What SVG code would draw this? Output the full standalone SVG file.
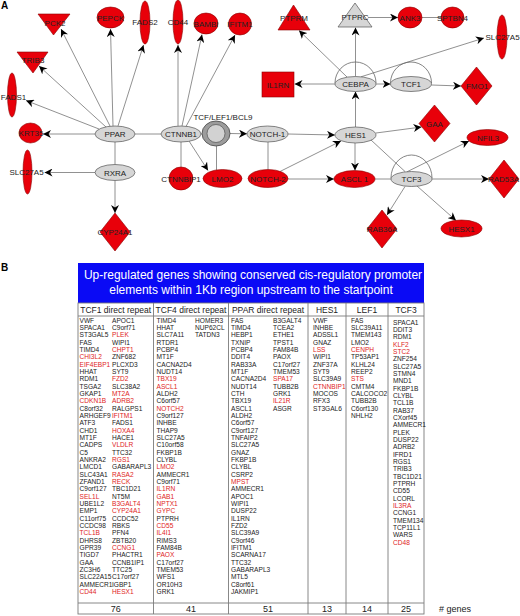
<svg xmlns="http://www.w3.org/2000/svg" width="520" height="616" viewBox="0 0 520 616">
<defs>
<marker id="ah" viewBox="0 0 10 10" refX="10" refY="5" markerWidth="8" markerHeight="8" markerUnits="userSpaceOnUse" orient="auto"><path d="M0,0 L10,5 L0,10 L3,5 z" fill="#000"/></marker>
<style>
.e{stroke:#858585;stroke-width:0.9;fill:none}
.a{marker-end:url(#ah)}
.lp{stroke:#666;stroke-width:0.8;fill:none}
.r{fill:#e8000a;stroke:#8a0000;stroke-width:0.6}
.g{fill:#d6d6d6;stroke:#555;stroke-width:0.7}
.lb{font-family:"Liberation Sans",Arial,sans-serif;font-size:8px;fill:#222;text-anchor:middle}
.pl{font-family:"Liberation Sans",Arial,sans-serif;font-size:10px;font-weight:bold;fill:#000}
.it{font-family:"Liberation Sans",Arial,sans-serif;font-size:6.6px;fill:#222}
.rd{fill:#e02424}
.hd{font-family:"Liberation Sans",Arial,sans-serif;font-size:8.5px;fill:#222;text-anchor:middle}
.ct{font-family:"Liberation Sans",Arial,sans-serif;font-size:9px;fill:#222;text-anchor:middle}
.tl{stroke:#7a7a7a;stroke-width:0.9;fill:none}
.ti{font-family:"Liberation Sans",Arial,sans-serif;font-size:12px;fill:#fff;text-anchor:middle}
</style>
</defs>
<rect width="520" height="616" fill="#fff"/>
<text class="pl" x="1" y="9">A</text>
<text class="pl" x="1" y="271">B</text>

<g id="connectors">
<path class="e a" d="M110,126 L61,29"/>
<path class="e a" d="M106,127 L39,66"/>
<path class="e a" d="M99,129 L26,100.5"/>
<path class="e a" d="M95,134 L43,134"/>
<path class="e a" d="M113,126 L110.5,29"/>
<path class="e a" d="M118,126 L143.5,45"/>
<path class="e" d="M135,134 L161,134"/>
<path class="e" d="M115,142 L115,164.5"/>
<path class="e a" d="M178,126 L178,45"/>
<path class="e a" d="M182,126 L202,34.5"/>
<path class="e a" d="M186,126.5 L235,35"/>
<path class="e" d="M201,134 L202,134"/>
<path class="e" d="M181,142 L181,167"/>
<path class="e a" d="M189,141 L208,170.5"/>
<path class="e" d="M216.5,146 L216.5,170"/>
<path class="e a" d="M230,133.5 L247,133.8"/>
<path class="e a" d="M288,134 L335,135"/>
<path class="e" d="M268,142 L268,169.5"/>
<path class="e a" d="M280,171.5 L341,141"/>
<path class="e a" d="M288,179 L334,179"/>
<path class="e a" d="M355.5,127 L355.5,91.5"/>
<path class="e a" d="M376,133 L421.5,127"/>
<path class="e a" d="M355,143 L355,170.5"/>
<path class="e" d="M371,140 L405,171.5"/>
<path class="e a" d="M407,171.8 L469,141"/>
<path class="e" d="M375,179 L391,179"/>
<path class="e a" d="M432,179 L489,179"/>
<path class="e a" d="M405,186.5 L387,215"/>
<path class="e a" d="M417,186 L456,220.5"/>
<path class="e a" d="M335,84 L294.5,84"/>
<path class="e a" d="M347,77 L299,30.5"/>
<path class="e a" d="M355.5,76.5 L355.5,27.5"/>
<path class="e a" d="M361,76.8 L484,38"/>
<path class="e a" d="M376,84 L390.5,84"/>
<path class="e a" d="M431.5,85 L461,86"/>
<path class="e a" d="M368,17.5 L398,17.5"/>
<path class="e" d="M422,17.5 L441,17.5"/>
<path class="e a" d="M95,172.5 L44.5,172.5"/>
<path class="e a" d="M115,180.5 L115,213"/>
<path class="lp" d="M335,83 A20.5,21 0 0 1 376,83"/>
<path class="lp" d="M390.5,83 A20.5,21 0 0 1 431.5,83"/>
<path class="lp" d="M391,178 A20.5,23 0 0 1 432,178"/>
</g>

<g id="n-PCK2"><polygon class="r" points="38,14 70,14 53.5,35"/><text class="lb" x="55" y="25.5">PCK2</text></g>
<g id="n-TRIB3"><polygon class="r" points="17,52 48,52 33,73"/><text class="lb" x="33" y="63">TRIB3</text></g>
<g id="n-PEPCK"><ellipse class="r" cx="110.5" cy="17.5" rx="13.5" ry="10.5"/><text class="lb" x="110.5" y="20.5">PEPCK</text></g>
<g id="n-FADS2"><ellipse class="r" cx="145" cy="22.5" rx="5" ry="21.5"/><text class="lb" x="145" y="25">FADS2</text></g>
<g id="n-CD44"><ellipse class="r" cx="178" cy="22" rx="5" ry="22"/><text class="lb" x="178" y="25">CD44</text></g>
<g id="n-BAMBI"><ellipse class="r" cx="206" cy="23.5" rx="12" ry="10.5"/><text class="lb" x="206" y="26.5">BAMBI</text></g>
<g id="n-IFITM1"><ellipse class="r" cx="240" cy="24" rx="11.5" ry="11"/><text class="lb" x="240" y="27">IFITM1</text></g>
<g id="n-FADS1"><ellipse class="r" cx="12" cy="95" rx="4.5" ry="22"/><text class="lb" x="13.5" y="100">FADS1</text></g>
<g id="n-KRT35"><ellipse class="r" cx="30.5" cy="133" rx="11.5" ry="10"/><text class="lb" x="31" y="136">KRT35</text></g>
<g id="n-PPAR"><ellipse class="g" cx="115" cy="134" rx="20" ry="8"/><text class="lb" x="115" y="137">PPAR</text></g>
<g id="n-CTNNB1"><ellipse class="g" cx="181" cy="134" rx="20" ry="8"/><text class="lb" x="181" y="137">CTNNB1</text></g>
<g id="n-TCFLEF1BCL9"><ellipse cx="216" cy="133.5" rx="14" ry="12.5" fill="#9c9c9c" stroke="#444" stroke-width="0.8"/><ellipse cx="216" cy="133.5" rx="9" ry="9" fill="#d2d2d2" stroke="#555" stroke-width="0.7"/><text class="lb" x="223" y="120">TCF/LEF1/BCL9</text></g>
<g id="n-NOTCH1"><ellipse class="g" cx="267.5" cy="134" rx="20.5" ry="8"/><text class="lb" x="267.5" y="137">NOTCH-1</text></g>
<g id="n-HES1"><ellipse class="g" cx="355.5" cy="135" rx="20.5" ry="8"/><text class="lb" x="355.5" y="138">HES1</text></g>
<g id="n-CEBPA"><ellipse class="g" cx="355.5" cy="84" rx="20.5" ry="7.5"/><text class="lb" x="355.5" y="87">CEBPA</text></g>
<g id="n-TCF1"><ellipse class="g" cx="411" cy="84" rx="20.5" ry="7.5"/><text class="lb" x="411" y="87">TCF1</text></g>
<g id="n-TCF3"><ellipse class="g" cx="411.5" cy="179" rx="20.5" ry="7.5"/><text class="lb" x="411.5" y="182">TCF3</text></g>
<g id="n-RXRA"><ellipse class="g" cx="115" cy="172.5" rx="20" ry="8"/><text class="lb" x="115" y="175.5">RXRA</text></g>
<g id="n-PTPRC"><polygon class="g" points="355,3 338,27 372,27"/><text class="lb" x="355" y="19.5">PTPRC</text></g>
<g id="n-PTPRM"><polygon class="r" points="293.5,5 278,30 310,30"/><text class="lb" x="294" y="21">PTPRM</text></g>
<g id="n-IL1RN"><rect class="r" x="262" y="72" width="32" height="25"/><text class="lb" x="278" y="87.5">IL1RN</text></g>
<g id="n-ANK3"><ellipse class="r" cx="410" cy="17.5" rx="12" ry="10.5"/><text class="lb" x="410" y="20.5">ANK3</text></g>
<g id="n-SPTBN4"><ellipse class="r" cx="452.5" cy="17.5" rx="11.5" ry="10.5"/><text class="lb" x="452.5" y="20.5">SPTBN4</text></g>
<g id="n-SLC27A5-r"><ellipse class="r" cx="502" cy="37" rx="5" ry="22"/><text class="lb" x="502.5" y="40">SLC27A5</text></g>
<g id="n-FMO1"><polygon class="r" points="476.5,67 492,86 476.5,105 461,86"/><text class="lb" x="477" y="89">FMO1</text></g>
<g id="n-GAA"><polygon class="r" points="434.5,105 450,123.5 434.5,142 419,123.5"/><text class="lb" x="434.5" y="126.5">GAA</text></g>
<g id="n-NFIL3"><ellipse class="r" cx="487.5" cy="137.5" rx="20.5" ry="8"/><text class="lb" x="488" y="140.5">NFIL3</text></g>
<g id="n-ASCL1"><ellipse class="r" cx="354.5" cy="179" rx="20.5" ry="8.5"/><text class="lb" x="354.5" y="182">ASCL 1</text></g>
<g id="n-RAD53A"><polygon class="r" points="504,160 519,179 504,198 489,179"/><text class="lb" x="503.5" y="182">RAD53A</text></g>
<g id="n-RAB36A"><polygon class="r" points="382,210 397,229 382,248 367,229"/><text class="lb" x="382" y="232">RAB36A</text></g>
<g id="n-HESX1"><ellipse class="r" cx="461.5" cy="228.5" rx="20.5" ry="8.5"/><text class="lb" x="461.5" y="231.5">HESX1</text></g>
<g id="n-CTNNBIP1"><ellipse class="r" cx="181" cy="178.5" rx="12" ry="11.5"/><text class="lb" x="181" y="181.5">CTNNBIP1</text></g>
<g id="n-LMO2"><ellipse class="r" cx="222.5" cy="178.5" rx="19.5" ry="9"/><text class="lb" x="222.5" y="181.5">LMO2</text></g>
<g id="n-NOTCH2"><ellipse class="r" cx="268" cy="178.5" rx="20" ry="9"/><text class="lb" x="268" y="181.5">NOTCH-2</text></g>
<g id="n-SLC27A5-l"><ellipse class="r" cx="27.5" cy="172" rx="4.5" ry="22"/><text class="lb" x="26.5" y="175">SLC27A5</text></g>
<g id="n-CYP24A1"><polygon class="r" points="115,213 130,232 115,251 100,232"/><text class="lb" x="115" y="235">CYP24A1</text></g>

<g id="panelB">
<rect x="78" y="263" width="346" height="40" fill="#0a0af5"/>
<text class="ti" x="253" y="279">Up-regulated genes showing conserved cis-regulatory promoter</text>
<text class="ti" x="251" y="294">elements within 1Kb region upstream to the startpoint</text>
<rect class="tl" x="78" y="303" width="346" height="311"/>
<path class="tl" d="M78,316 H424 M78,603 H424 M153.5,303 V614 M228.5,303 V614 M308,303 V614 M346,303 V614 M388,303 V614"/>
<text class="hd" x="115.7" y="313">TCF1 direct repeat</text>
<text class="hd" x="191" y="313">TCF4 direct repeat</text>
<text class="hd" x="268" y="313">PPAR direct repeat</text>
<text class="hd" x="327" y="313">HES1</text>
<text class="hd" x="367" y="313">LEF1</text>
<text class="hd" x="406" y="313">TCF3</text>

<text class="it" x="79.5" y="322.8"><tspan x="79.5">VWF</tspan><tspan x="79.5" dy="7.33">SPACA1</tspan><tspan x="79.5" dy="7.33">ST3GAL5</tspan><tspan x="79.5" dy="7.33">FAS</tspan><tspan x="79.5" dy="7.33">TIMD4</tspan><tspan x="79.5" dy="7.33" class="rd">CHI3L2</tspan><tspan x="79.5" dy="7.33" class="rd">EIF4EBP1</tspan><tspan x="79.5" dy="7.33">HHAT</tspan><tspan x="79.5" dy="7.33">RDM1</tspan><tspan x="79.5" dy="7.33">TSGA2</tspan><tspan x="79.5" dy="7.33">GKAP1</tspan><tspan x="79.5" dy="7.33" class="rd">CDKN1B</tspan><tspan x="79.5" dy="7.33">C8orf32</tspan><tspan x="79.5" dy="7.33">ARHGEF9</tspan><tspan x="79.5" dy="7.33">ATF3</tspan><tspan x="79.5" dy="7.33">CHD1</tspan><tspan x="79.5" dy="7.33">MT1F</tspan><tspan x="79.5" dy="7.33">CADPS</tspan><tspan x="79.5" dy="7.33">C5</tspan><tspan x="79.5" dy="7.33">ANKRA2</tspan><tspan x="79.5" dy="7.33">LMCD1</tspan><tspan x="79.5" dy="7.33">SLC43A1</tspan><tspan x="79.5" dy="7.33">ZFAND1</tspan><tspan x="79.5" dy="7.33">C9orf127</tspan><tspan x="79.5" dy="7.33" class="rd">SEL1L</tspan><tspan x="79.5" dy="7.33">UBE1L2</tspan><tspan x="79.5" dy="7.33">EMP1</tspan><tspan x="79.5" dy="7.33">C11orf75</tspan><tspan x="79.5" dy="7.33">CCDC98</tspan><tspan x="79.5" dy="7.33" class="rd">TCL1B</tspan><tspan x="79.5" dy="7.33">DHRS8</tspan><tspan x="79.5" dy="7.33">GPR39</tspan><tspan x="79.5" dy="7.33">TIGD7</tspan><tspan x="79.5" dy="7.33">GAA</tspan><tspan x="79.5" dy="7.33">ZC3H6</tspan><tspan x="79.5" dy="7.33">SLC22A15</tspan><tspan x="79.5" dy="7.33">AMMECR1</tspan><tspan x="79.5" dy="7.33" class="rd">CD44</tspan></text>

<text class="it" x="112" y="322.8"><tspan x="112">APOC1</tspan><tspan x="112" dy="7.33">C9orf71</tspan><tspan x="112" dy="7.33" class="rd">PLEK</tspan><tspan x="112" dy="7.33">WIPI1</tspan><tspan x="112" dy="7.33" class="rd">CHPT1</tspan><tspan x="112" dy="7.33">ZNF682</tspan><tspan x="112" dy="7.33">PLCXD3</tspan><tspan x="112" dy="7.33">SYT9</tspan><tspan x="112" dy="7.33" class="rd">FZD2</tspan><tspan x="112" dy="7.33">SLC38A2</tspan><tspan x="112" dy="7.33" class="rd">MT2A</tspan><tspan x="112" dy="7.33" class="rd">ADRB2</tspan><tspan x="112" dy="7.33">RALGPS1</tspan><tspan x="112" dy="7.33" class="rd">IFITM1</tspan><tspan x="112" dy="7.33">FADS1</tspan><tspan x="112" dy="7.33" class="rd">HOXA4</tspan><tspan x="112" dy="7.33">HACE1</tspan><tspan x="112" dy="7.33" class="rd">VLDLR</tspan><tspan x="112" dy="7.33">TTC32</tspan><tspan x="112" dy="7.33" class="rd">RGS1</tspan><tspan x="112" dy="7.33">GABARAPL3</tspan><tspan x="112" dy="7.33" class="rd">RASA2</tspan><tspan x="112" dy="7.33" class="rd">RECK</tspan><tspan x="112" dy="7.33">TBC1D21</tspan><tspan x="112" dy="7.33">NT5M</tspan><tspan x="112" dy="7.33" class="rd">B3GALT4</tspan><tspan x="112" dy="7.33" class="rd">CYP24A1</tspan><tspan x="112" dy="7.33">CCDC52</tspan><tspan x="112" dy="7.33">RBKS</tspan><tspan x="112" dy="7.33">PFN4</tspan><tspan x="112" dy="7.33">ZBTB20</tspan><tspan x="112" dy="7.33" class="rd">CCNG1</tspan><tspan x="112" dy="7.33">PHACTR1</tspan><tspan x="112" dy="7.33">CCNB1IP1</tspan><tspan x="112" dy="7.33">TTC25</tspan><tspan x="112" dy="7.33">C17orf27</tspan><tspan x="112" dy="7.33">IGBP1</tspan><tspan x="112" dy="7.33" class="rd">HESX1</tspan></text>

<text class="it" x="156.5" y="322.8"><tspan x="156.5">TIMD4</tspan><tspan x="156.5" dy="7.33">HHAT</tspan><tspan x="156.5" dy="7.33">SLC7A11</tspan><tspan x="156.5" dy="7.33">RTDR1</tspan><tspan x="156.5" dy="7.33">PCBP4</tspan><tspan x="156.5" dy="7.33">MT1F</tspan><tspan x="156.5" dy="7.33">CACNA2D4</tspan><tspan x="156.5" dy="7.33">NUDT14</tspan><tspan x="156.5" dy="7.33" class="rd">TBX19</tspan><tspan x="156.5" dy="7.33" class="rd">ASCL1</tspan><tspan x="156.5" dy="7.33">ALDH2</tspan><tspan x="156.5" dy="7.33">C6orf57</tspan><tspan x="156.5" dy="7.33" class="rd">NOTCH2</tspan><tspan x="156.5" dy="7.33">C9orf127</tspan><tspan x="156.5" dy="7.33">INHBE</tspan><tspan x="156.5" dy="7.33">THAP9</tspan><tspan x="156.5" dy="7.33">SLC27A5</tspan><tspan x="156.5" dy="7.33">C10orf58</tspan><tspan x="156.5" dy="7.33">FKBP1B</tspan><tspan x="156.5" dy="7.33">CLYBL</tspan><tspan x="156.5" dy="7.33" class="rd">LMO2</tspan><tspan x="156.5" dy="7.33">AMMECR1</tspan><tspan x="156.5" dy="7.33">C9orf71</tspan><tspan x="156.5" dy="7.33" class="rd">IL1RN</tspan><tspan x="156.5" dy="7.33" class="rd">GAB1</tspan><tspan x="156.5" dy="7.33" class="rd">NPTX1</tspan><tspan x="156.5" dy="7.33" class="rd">GYPC</tspan><tspan x="156.5" dy="7.33">PTPRH</tspan><tspan x="156.5" dy="7.33" class="rd">CD55</tspan><tspan x="156.5" dy="7.33" class="rd">IL4I1</tspan><tspan x="156.5" dy="7.33">RIMS3</tspan><tspan x="156.5" dy="7.33">FAM84B</tspan><tspan x="156.5" dy="7.33" class="rd">PAOX</tspan><tspan x="156.5" dy="7.33">C17orf27</tspan><tspan x="156.5" dy="7.33">TMEM53</tspan><tspan x="156.5" dy="7.33">WFS1</tspan><tspan x="156.5" dy="7.33">OR10H3</tspan><tspan x="156.5" dy="7.33">GRK1</tspan></text>

<text class="it" x="195" y="322.8"><tspan x="195">HOMER3</tspan><tspan x="195" dy="7.33">NUP62CL</tspan><tspan x="195" dy="7.33">TATDN3</tspan></text>

<text class="it" x="231" y="322.8"><tspan x="231">FAS</tspan><tspan x="231" dy="7.33">TIMD4</tspan><tspan x="231" dy="7.33">HEBP1</tspan><tspan x="231" dy="7.33">TXNIP</tspan><tspan x="231" dy="7.33">PCBP4</tspan><tspan x="231" dy="7.33">DDIT4</tspan><tspan x="231" dy="7.33">RAB33A</tspan><tspan x="231" dy="7.33">MT1F</tspan><tspan x="231" dy="7.33">CACNA2D4</tspan><tspan x="231" dy="7.33">NUDT14</tspan><tspan x="231" dy="7.33">CTH</tspan><tspan x="231" dy="7.33">TBX19</tspan><tspan x="231" dy="7.33">ASCL1</tspan><tspan x="231" dy="7.33">ALDH2</tspan><tspan x="231" dy="7.33">C6orf57</tspan><tspan x="231" dy="7.33">C9orf127</tspan><tspan x="231" dy="7.33">TNFAIP2</tspan><tspan x="231" dy="7.33">SLC27A5</tspan><tspan x="231" dy="7.33">GNAZ</tspan><tspan x="231" dy="7.33">FKBP1B</tspan><tspan x="231" dy="7.33">CLYBL</tspan><tspan x="231" dy="7.33">CSRP2</tspan><tspan x="231" dy="7.33" class="rd">MPST</tspan><tspan x="231" dy="7.33">AMMECR1</tspan><tspan x="231" dy="7.33">APOC1</tspan><tspan x="231" dy="7.33">WIPI1</tspan><tspan x="231" dy="7.33">DUSP22</tspan><tspan x="231" dy="7.33">IL1RN</tspan><tspan x="231" dy="7.33">FZD2</tspan><tspan x="231" dy="7.33">SLC39A9</tspan><tspan x="231" dy="7.33">C9orf46</tspan><tspan x="231" dy="7.33">IFITM1</tspan><tspan x="231" dy="7.33">SCARNA17</tspan><tspan x="231" dy="7.33">TTC32</tspan><tspan x="231" dy="7.33">GABARAPL3</tspan><tspan x="231" dy="7.33">MTL5</tspan><tspan x="231" dy="7.33">C8orf61</tspan><tspan x="231" dy="7.33">JAKMIP1</tspan></text>

<text class="it" x="273" y="322.8"><tspan x="273">B3GALT4</tspan><tspan x="273" dy="7.33">TCEA2</tspan><tspan x="273" dy="7.33">ETHE1</tspan><tspan x="273" dy="7.33">TPST1</tspan><tspan x="273" dy="7.33">FAM84B</tspan><tspan x="273" dy="7.33">PAOX</tspan><tspan x="273" dy="7.33">C17orf27</tspan><tspan x="273" dy="7.33">TMEM53</tspan><tspan x="273" dy="7.33" class="rd">SPA17</tspan><tspan x="273" dy="7.33">TUBB2B</tspan><tspan x="273" dy="7.33">GRK1</tspan><tspan x="273" dy="7.33" class="rd">IL21R</tspan><tspan x="273" dy="7.33">ASGR</tspan></text>

<text class="it" x="313" y="322.8"><tspan x="313">VWF</tspan><tspan x="313" dy="7.33">INHBE</tspan><tspan x="313" dy="7.33">ADSSL1</tspan><tspan x="313" dy="7.33">GNAZ</tspan><tspan x="313" dy="7.33" class="rd">LSS</tspan><tspan x="313" dy="7.33">WIPI1</tspan><tspan x="313" dy="7.33">ZNF37A</tspan><tspan x="313" dy="7.33">SYT9</tspan><tspan x="313" dy="7.33">SLC39A9</tspan><tspan x="313" dy="7.33" class="rd">CTNNBIP1</tspan><tspan x="313" dy="7.33">MOCOS</tspan><tspan x="313" dy="7.33">RFX3</tspan><tspan x="313" dy="7.33">ST3GAL6</tspan></text>

<text class="it" x="351" y="322.8"><tspan x="351">FAS</tspan><tspan x="351" dy="7.33">SLC39A11</tspan><tspan x="351" dy="7.33">TMEM143</tspan><tspan x="351" dy="7.33">LMO2</tspan><tspan x="351" dy="7.33" class="rd">CENPH</tspan><tspan x="351" dy="7.33">TP53AP1</tspan><tspan x="351" dy="7.33">KLHL24</tspan><tspan x="351" dy="7.33">REEP2</tspan><tspan x="351" dy="7.33" class="rd">STS</tspan><tspan x="351" dy="7.33">CMTM4</tspan><tspan x="351" dy="7.33">CALCOCO2</tspan><tspan x="351" dy="7.33">TUBB2B</tspan><tspan x="351" dy="7.33">C6orf130</tspan><tspan x="351" dy="7.33">NHLH2</tspan></text>

<text class="it" x="393" y="324.8"><tspan x="393">SPACA1</tspan><tspan x="393" dy="7.33">DDIT3</tspan><tspan x="393" dy="7.33">RDM1</tspan><tspan x="393" dy="7.33" class="rd">KLF2</tspan><tspan x="393" dy="7.33" class="rd">STC2</tspan><tspan x="393" dy="7.33">ZNF254</tspan><tspan x="393" dy="7.33">SLC27A5</tspan><tspan x="393" dy="7.33">STMN4</tspan><tspan x="393" dy="7.33">MND1</tspan><tspan x="393" dy="7.33">FKBP1B</tspan><tspan x="393" dy="7.33">CLYBL</tspan><tspan x="393" dy="7.33">TCL1B</tspan><tspan x="393" dy="7.33">RAB37</tspan><tspan x="393" dy="7.33">CXorf45</tspan><tspan x="393" dy="7.33">AMMECR1</tspan><tspan x="393" dy="7.33">PLEK</tspan><tspan x="393" dy="7.33">DUSP22</tspan><tspan x="393" dy="7.33">ADRB2</tspan><tspan x="393" dy="7.33">IFRD1</tspan><tspan x="393" dy="7.33">RGS1</tspan><tspan x="393" dy="7.33">TRIB3</tspan><tspan x="393" dy="7.33">TBC1D21</tspan><tspan x="393" dy="7.33">PTPRH</tspan><tspan x="393" dy="7.33">CD55</tspan><tspan x="393" dy="7.33">LCORL</tspan><tspan x="393" dy="7.33" class="rd">IL3RA</tspan><tspan x="393" dy="7.33">CCNG1</tspan><tspan x="393" dy="7.33">TMEM134</tspan><tspan x="393" dy="7.33">TCP11L1</tspan><tspan x="393" dy="7.33">WARS</tspan><tspan x="393" dy="7.33" class="rd">CD48</tspan></text>

<text class="ct" x="115.7" y="612">76</text>
<text class="ct" x="191" y="612">41</text>
<text class="ct" x="268" y="612">51</text>
<text class="ct" x="327" y="612">13</text>
<text class="ct" x="367" y="612">14</text>
<text class="ct" x="406" y="612">25</text>
<text class="ct" x="439" y="612" style="text-anchor:start"># genes</text>
</g>
</svg>
